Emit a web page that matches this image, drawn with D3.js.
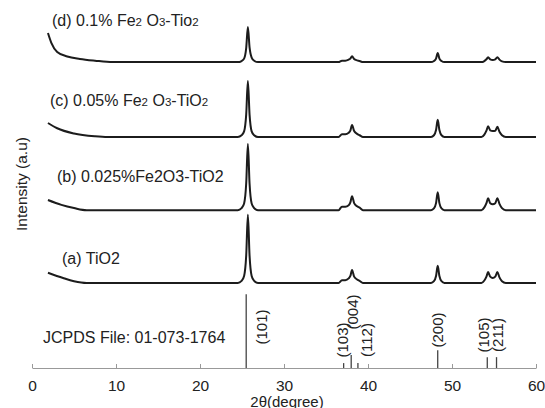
<!DOCTYPE html>
<html>
<head>
<meta charset="utf-8">
<script src="https://cdn.jsdelivr.net/npm/d3@7"></script>
<style>
  body { margin: 0; background: #fff; }
  text { font-family: "Liberation Sans", Arial, sans-serif; fill: #222; }
</style>
</head>
<body>
<div id="chart"></div>
<script>
// XRD patterns, [2theta, intensity a.u.] (baseline = 0)
const patternA = [[1.9,2.9],[3.7,1.4],[5,0.5],[6.5,0],
  [24.5,0],[24.95,0.6],[25.25,2.0],[25.5,7.8],[25.7,19.5],[25.9,7.8],[26.15,2.0],[26.45,0.6],[26.9,0],
  [36.5,0],[36.9,0.8],[37.3,0.8],[37.7,1.3],[37.9,2.0],[38.1,3.7],[38.35,1.8],[38.7,1.0],[39.0,0.6],[39.4,0],
  [47.5,0],[47.85,0.5],[48.1,2.0],[48.3,4.9],[48.5,2.0],[48.75,0.5],[49.1,0],
  [53.5,0],[53.85,0.7],[54.1,1.8],[54.3,3.1],[54.55,1.8],[54.85,1.4],[55.15,1.8],[55.4,3.1],[55.65,1.6],[55.95,0.5],[56.4,0],[60,0]];
const patternB = [[1.9,2.9],[3.5,1.5],[5,0.6],[6.5,0],
  [24.5,0],[24.95,0.6],[25.25,1.9],[25.5,7.6],[25.7,18.9],[25.9,7.6],[26.15,1.9],[26.45,0.6],[26.9,0],
  [36.5,0],[36.9,1.0],[37.3,1.0],[37.7,1.4],[37.9,2.2],[38.1,4.0],[38.35,2.0],[38.7,1.1],[39.0,0.7],[39.4,0],
  [47.5,0],[47.85,0.5],[48.1,2.0],[48.3,5.1],[48.5,2.0],[48.75,0.5],[49.1,0],
  [53.5,0],[53.85,0.8],[54.1,2.0],[54.3,3.4],[54.55,2.0],[54.85,1.7],[55.15,2.0],[55.4,3.4],[55.65,1.8],[55.95,0.6],[56.4,0],[60,0]];
const patternC = [[1.9,4.0],[3.0,2.5],[5,1.0],[7.5,0.2],[9,0],
  [24.5,0],[24.95,0.5],[25.25,1.6],[25.5,6.4],[25.7,16.0],[25.9,6.4],[26.15,1.6],[26.45,0.5],[26.9,0],
  [36.5,0],[36.9,0.8],[37.3,0.8],[37.7,1.2],[37.9,1.8],[38.1,3.4],[38.35,1.7],[38.7,0.9],[39.0,0.5],[39.4,0],
  [47.5,0],[47.85,0.5],[48.1,2.0],[48.3,4.9],[48.5,2.0],[48.75,0.5],[49.1,0],
  [53.5,0],[53.85,0.7],[54.1,1.8],[54.3,3.1],[54.55,1.9],[54.85,1.7],[55.15,1.8],[55.4,2.9],[55.65,1.5],[55.95,0.5],[56.4,0],[60,0]];
const patternD = [[1.9,8.3],[2.3,5.5],[3.0,2.9],[4.2,1.6],[5.7,0.9],[7.5,0.4],[9.6,0],
  [24.5,0],[24.95,0.3],[25.25,1.0],[25.5,4.0],[25.7,10.0],[25.9,4.2],[26.15,1.3],[26.45,0.4],[26.9,0],
  [36.5,0],[36.9,0.4],[37.3,0.4],[37.7,0.7],[37.9,1.0],[38.1,1.7],[38.35,0.9],[38.7,0.5],[39.0,0.3],[39.4,0],
  [47.5,0],[47.85,0.3],[48.1,1.0],[48.3,2.6],[48.5,1.0],[48.75,0.3],[49.1,0],
  [53.5,0],[53.85,0.3],[54.1,0.8],[54.3,1.4],[54.55,0.8],[54.85,0.6],[55.15,0.8],[55.4,1.4],[55.65,0.7],[55.95,0.2],[56.4,0],[60,0]];
const patterns = [patternA, patternB, patternC, patternD];
const offsets = [24.3, 45.1, 66.0, 87.4];   // vertical stacking, a.u.

// JCPDS 01-073-1764 reference sticks
const refPos = [25.5, 37.1, 38.0, 38.8, 48.3, 54.2, 55.3];
const refInt = [21.1, 1.4, 3.7, 1.4, 5.1, 3.1, 3.1];
const refHkl = ["(101)", "(103)", "(004)", "(112)", "(200)", "(105)", "(211)"];

const xTicks = [0, 10, 20, 30, 40, 50, 60];

// layout
const width = 545, height = 408;
const labelPos = [[62, 264], [57, 182], [50, 106], [52, 26]];          // pattern label x, baseline
const hklPos = [[16, 327], [-1, 340], [2, 312], [9, 340], [0, 330], [-4, 335], [1, 335]]; // dx from stick, y centre

const svg = d3.select("#chart").append("svg")
  .attr("width", width)
  .attr("height", height)
  .style("background", "#fff");

const x = d3.scaleLinear().domain([0, 60]).range([32, 536]);
const y = d3.scaleLinear().domain([0, 100]).range([368, 18]);

// x axis
const ax = svg.append("g")
  .attr("transform", `translate(0,${y(0)})`)
  .call(d3.axisBottom(x).tickValues(xTicks).tickSizeInner(-4).tickSizeOuter(0).tickPadding(12));
ax.select(".domain").attr("stroke", "#999");
ax.selectAll(".tick line").attr("stroke", "#999");
ax.selectAll(".tick text").attr("font-size", 15.5).attr("fill", "#222")
  .style("font-family", '"Liberation Sans", Arial, sans-serif');

svg.append("text")
  .attr("x", 287).attr("y", 406.5)
  .attr("text-anchor", "middle")
  .attr("font-size", 15)
  .text("2θ(degree)");

svg.append("text")
  .attr("transform", "translate(27,184) rotate(-90)")
  .attr("text-anchor", "middle")
  .attr("font-size", 15.5)
  .text("Intensity (a.u)");

// patterns
const line = d3.line()
  .x(d => x(d[0]))
  .curve(d3.curveMonotoneX);

svg.append("g")
  .selectAll("path")
  .data(patterns)
  .join("path")
  .attr("fill", "none")
  .attr("stroke", "#1c1c1c")
  .attr("stroke-width", 2)
  .attr("stroke-linejoin", "round")
  .attr("d", (p, i) => line.y(d => y(d[1] + offsets[i]))(p));

// pattern labels (with subscripts where the figure has them)
const labelParts = [
  [["(a) TiO2", false]],
  [["(b) 0.025%Fe2O3-TiO2", false]],
  [["(c) 0.05% Fe", false], ["2", true], [" O", false], ["3", true], ["-TiO", false], ["2", true]],
  [["(d) 0.1% Fe", false], ["2", true], [" O", false], ["3", true], ["-Tio", false], ["2", true]]
];
labelParts.forEach((parts, i) => {
  const t = svg.append("text")
    .attr("x", labelPos[i][0]).attr("y", labelPos[i][1])
    .attr("font-size", 16);
  parts.forEach(([s, sub]) => {
    t.append("tspan").attr("font-size", sub ? 11.5 : 16).text(s);
  });
});

// reference sticks
svg.append("g")
  .selectAll("line")
  .data(refPos)
  .join("line")
  .attr("x1", d => x(d)).attr("x2", d => x(d))
  .attr("y1", y(0))
  .attr("y2", (d, i) => y(refInt[i]))
  .attr("stroke", "#444")
  .attr("stroke-width", 1.3);

svg.append("g")
  .selectAll("text")
  .data(refHkl)
  .join("text")
  .attr("transform", (d, i) => `translate(${x(refPos[i]) + hklPos[i][0]},${hklPos[i][1]}) rotate(-90)`)
  .attr("text-anchor", "middle")
  .attr("dy", "0.35em")
  .attr("font-size", 15)
  .text(d => d);

svg.append("text")
  .attr("x", 43).attr("y", 343)
  .attr("font-size", 16)
  .text("JCPDS File: 01-073-1764");
</script>
</body>
</html>
